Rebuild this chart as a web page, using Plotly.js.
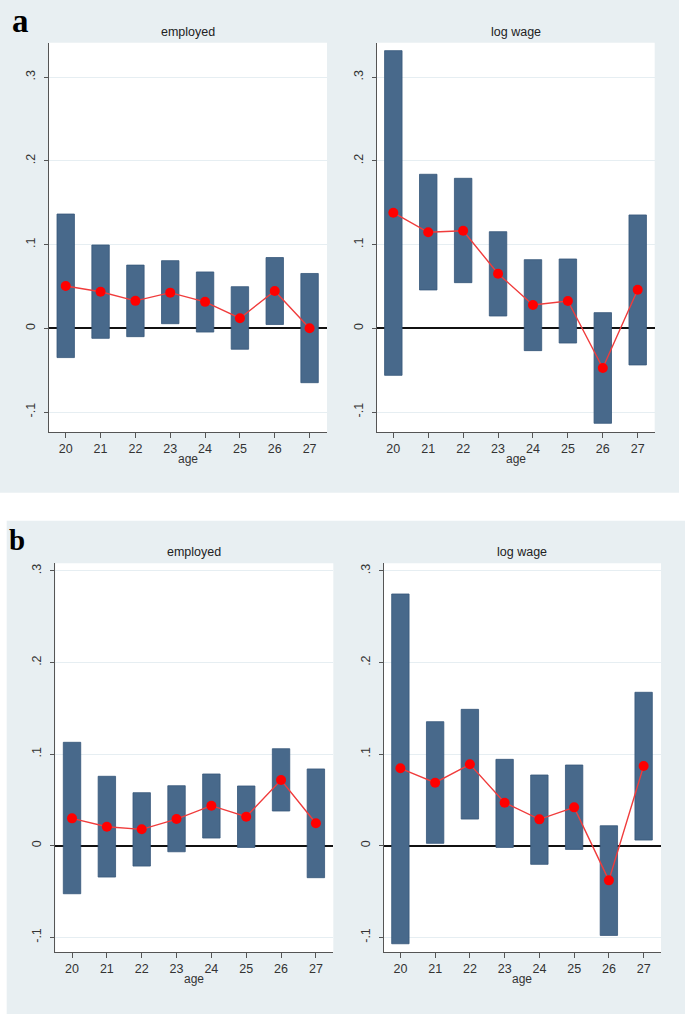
<!DOCTYPE html>
<html>
<head>
<meta charset="utf-8">
<script src="https://cdn.plot.ly/plotly-3.0.1.min.js"></script>
<style>html,body{margin:0;padding:0;background:#fff;}#chart{width:685px;height:1014px;}</style>
</head>
<body>
<div id="chart"></div>
<script>
// ---------- data ----------
const ages = [20, 21, 22, 23, 24, 25, 26, 27];
const yTickVals = [-0.1, 0, 0.1, 0.2, 0.3];
const yTickText = ['-.1', '0', '.1', '.2', '.3'];

// Panel a — employed
const aEmpLow  = [-0.035, -0.012, -0.010, 0.0055, -0.0045, -0.025, 0.0045, -0.065];
const aEmpHigh = [0.1365, 0.0995, 0.0755, 0.0808, 0.0673, 0.0497, 0.0845, 0.0655];
const aEmpEst  = [0.0505, 0.0437, 0.0328, 0.0426, 0.0316, 0.0120, 0.0446, 0.0000];

// Panel a — log wage
const aWageLow  = [-0.0562, 0.0458, 0.0545, 0.0147, -0.0267, -0.0176, -0.1135, -0.0438];
const aWageHigh = [0.3317, 0.1840, 0.1792, 0.1154, 0.0820, 0.0828, 0.0187, 0.1354];
const aWageEst  = [0.1381, 0.1147, 0.1166, 0.0652, 0.0278, 0.0326, -0.0474, 0.0461];

// Panel b — employed
const bEmpLow  = [-0.0524, -0.0342, -0.0222, -0.0066, 0.0084, -0.0018, 0.0379, -0.0349];
const bEmpHigh = [0.1129, 0.0758, 0.0579, 0.0655, 0.0783, 0.0652, 0.1059, 0.0838];
const bEmpEst  = [0.0299, 0.0207, 0.0179, 0.0291, 0.0437, 0.0317, 0.0717, 0.0245];

// Panel b — log wage
const bWageLow  = [-0.1070, 0.0026, 0.0291, -0.0018, -0.0203, -0.0040, -0.0979, 0.0062];
const bWageHigh = [0.2748, 0.1354, 0.1489, 0.0943, 0.0772, 0.0881, 0.0218, 0.1675];
const bWageEst  = [0.0845, 0.0688, 0.0889, 0.0470, 0.0288, 0.0419, -0.0378, 0.0870];

const panelTitles = ['employed', 'log wage', 'employed', 'log wage'];
const xTitle = 'age';
const panelLetters = ['a', 'b'];

// ---------- layout helpers ----------
const W = 685, H = 1014;
const px = v => v / W;
const py = v => 1 - v / H;

const barColor = '#48698b';
const barLine = '#36577a';
const estColor = '#ff0000';

const panels = [
  {low: aEmpLow,  high: aEmpHigh,  est: aEmpEst,  x0: 49,    x1: 327,   top: 42.7,  bot: 432, yr: [-0.1239, 0.3412], xr: [19.52, 27.5]},
  {low: aWageLow, high: aWageHigh, est: aWageEst, x0: 376.7, x1: 654.7, top: 42.7,  bot: 432, yr: [-0.1239, 0.3412], xr: [19.524, 27.487]},
  {low: bEmpLow,  high: bEmpHigh,  est: bEmpEst,  x0: 55.3,  x1: 333.3, top: 563.3, bot: 952, yr: [-0.1160, 0.3083], xr: [19.52, 27.5]},
  {low: bWageLow, high: bWageHigh, est: bWageEst, x0: 383.7, x1: 661,   top: 563.3, bot: 952, yr: [-0.1160, 0.3083], xr: [19.52, 27.5]}
];

const traces = [];
const layout = {
  width: W, height: H,
  margin: {l: 0, r: 0, t: 0, b: 0},
  paper_bgcolor: '#ffffff',
  plot_bgcolor: '#ffffff',
  showlegend: false,
  font: {family: 'Liberation Sans, Arial, sans-serif', color: '#333', size: 12},
  shapes: [
    {type: 'rect', xref: 'paper', yref: 'paper', x0: 0, x1: px(679), y0: py(492.7), y1: 1, fillcolor: '#e8eff2', line: {width: 0}, layer: 'below'},
    {type: 'rect', xref: 'paper', yref: 'paper', x0: px(6.7), x1: 1, y0: 0, y1: py(520.7), fillcolor: '#e8eff2', line: {width: 0}, layer: 'below'}
  ],
  annotations: []
};

panels.forEach((p, i) => {
  const n = i + 1;
  const xa = 'x' + (n === 1 ? '' : n), ya = 'y' + (n === 1 ? '' : n);
  const xKey = 'xaxis' + (n === 1 ? '' : n), yKey = 'yaxis' + (n === 1 ? '' : n);

  traces.push({
    type: 'bar', x: ages,
    base: p.low,
    y: p.high.map((h, k) => h - p.low[k]),
    width: 0.5,
    marker: {color: barColor, line: {color: barLine, width: 0.8}},
    xaxis: xa, yaxis: ya, hoverinfo: 'skip'
  });
  traces.push({
    type: 'scatter', mode: 'lines+markers', x: ages, y: p.est,
    line: {color: '#f03c3c', width: 1.4},
    marker: {color: estColor, size: 10},
    xaxis: xa, yaxis: ya, hoverinfo: 'skip'
  });

  // white plot area (above panel background shapes)
  layout.shapes.push({type: 'rect', xref: 'paper', yref: 'paper',
    x0: px(p.x0), x1: px(p.x1), y0: py(p.bot), y1: py(p.top),
    fillcolor: '#ffffff', line: {width: 0}, layer: 'below'});

  layout[xKey] = {
    domain: [px(p.x0), px(p.x1)], anchor: ya, range: p.xr,
    tickvals: ages, ticks: 'outside', ticklen: 5, tickcolor: '#555', tickwidth: 1,
    showline: true, linecolor: '#555', linewidth: 1,
    showgrid: false, zeroline: false,
    tickfont: {size: 12.5, color: '#333'}
  };
  layout[yKey] = {
    domain: [py(p.bot), py(p.top)], anchor: xa, range: p.yr,
    tickvals: yTickVals, ticktext: yTickText, tickangle: -90,
    ticks: 'outside', ticklen: 4, tickcolor: '#555', tickwidth: 1,
    ticklabelstandoff: 4,
    showline: true, linecolor: '#555', linewidth: 1,
    showgrid: true, gridcolor: '#e6eef2', gridwidth: 1,
    zeroline: true, zerolinecolor: '#111', zerolinewidth: 2,
    tickfont: {size: 12.5, color: '#333'}
  };

  const cx = px((p.x0 + p.x1) / 2);
  layout.annotations.push({xref: 'paper', yref: 'paper', x: cx, y: py(p.top - 11), xanchor: 'center', yanchor: 'middle',
    text: panelTitles[i], showarrow: false, font: {size: 12.5, color: '#222'}});
  layout.annotations.push({xref: 'paper', yref: 'paper', x: cx, y: py(p.bot + 27), xanchor: 'center', yanchor: 'middle',
    text: xTitle, showarrow: false, font: {size: 12, color: '#333'}});
});

layout.annotations.push({xref: 'paper', yref: 'paper', x: px(10), y: py(21), xanchor: 'left', yanchor: 'middle',
  text: '<b>' + panelLetters[0] + '</b>', showarrow: false, font: {family: 'Liberation Serif, Times New Roman, serif', size: 33, color: '#000'}});
layout.annotations.push({xref: 'paper', yref: 'paper', x: px(7), y: py(540), xanchor: 'left', yanchor: 'middle',
  text: '<b>' + panelLetters[1] + '</b>', showarrow: false, font: {family: 'Liberation Serif, Times New Roman, serif', size: 29, color: '#000'}});

Plotly.newPlot('chart', traces, layout, {displayModeBar: false, staticPlot: true});
</script>
</body>
</html>
